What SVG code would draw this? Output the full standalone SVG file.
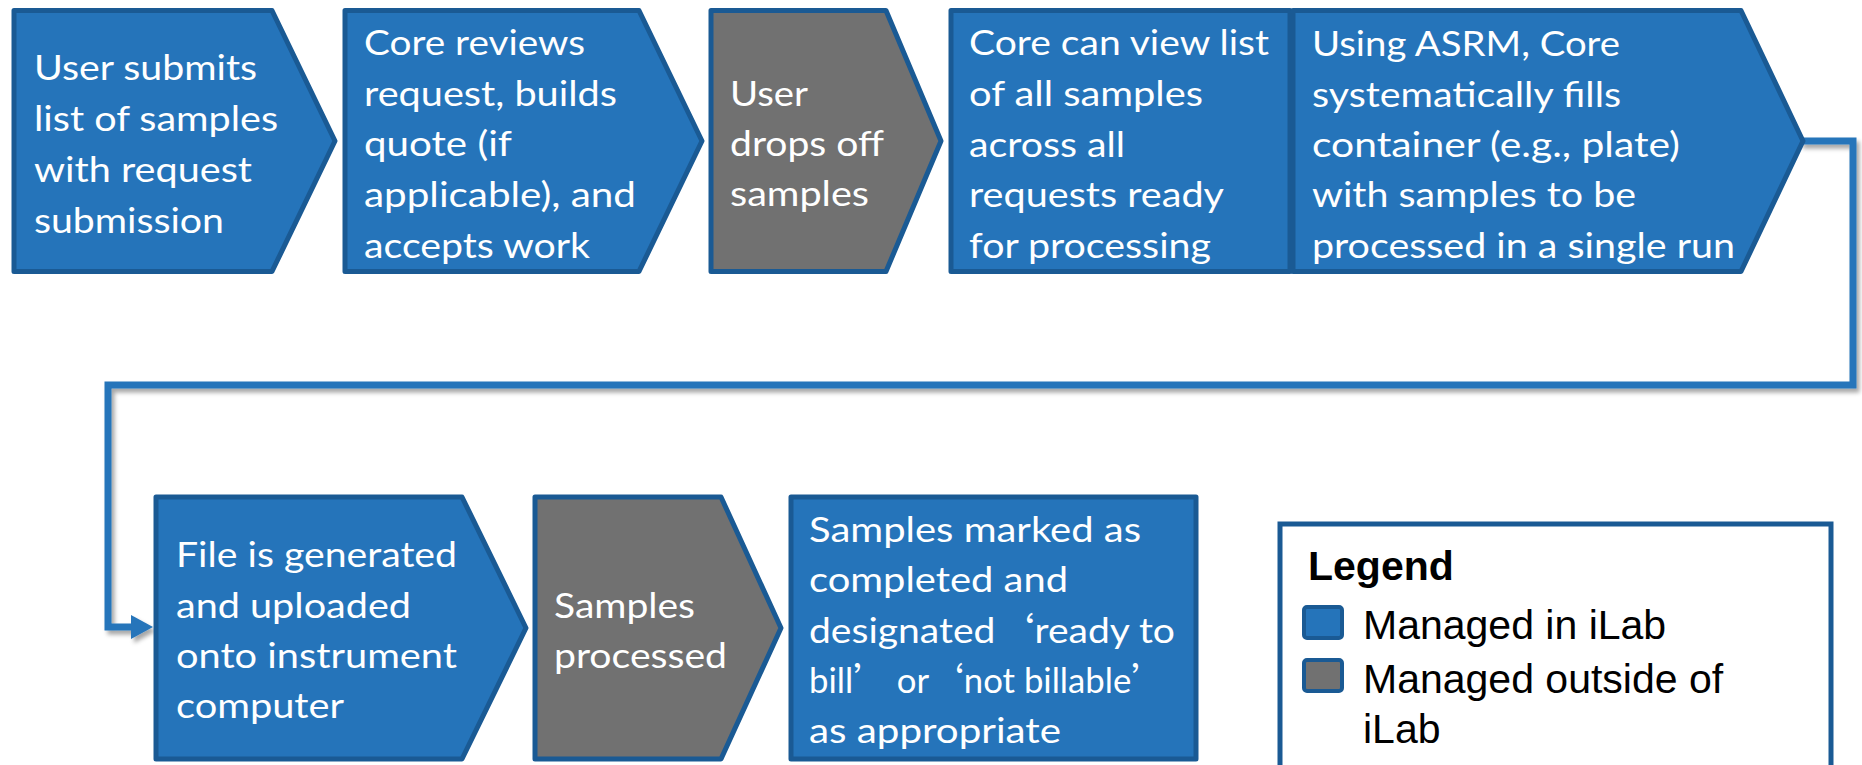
<svg xmlns="http://www.w3.org/2000/svg" width="1862" height="765" viewBox="0 0 1862 765">
<style>
.blue{fill:#2574BA;stroke:#1A5A94;stroke-width:5;stroke-linejoin:round}
.gray{fill:#717171;stroke:#1A5A94;stroke-width:5;stroke-linejoin:round}
.t{font-family:Lato,"Open Sans","Liberation Sans",sans-serif;font-size:35px;fill:#ffffff}
.q{font-family:"Noto Sans CJK SC","Noto Sans CJK JP",sans-serif}
.conn{fill:none;stroke:#2574BA;stroke-width:7}
.lg{font-family:"Liberation Sans",Arial,sans-serif;font-size:41px;fill:#000000}
</style>
<defs>
<filter id="sh" x="-5%" y="-5%" width="110%" height="110%">
<feDropShadow dx="3" dy="4" stdDeviation="2" flood-color="#000000" flood-opacity="0.35"/>
</filter>
<marker id="arr" viewBox="0 0 22 24" refX="1" refY="12" markerWidth="22" markerHeight="24" markerUnits="userSpaceOnUse" orient="auto">
<path d="M0 0 L22 12 L0 24 Z" fill="#2574BA"/>
</marker>
</defs>
<rect width="1862" height="765" fill="#ffffff"/>
<g id="connectors">
<path class="conn" filter="url(#sh)" d="M1800 141 H1853 V385 H108 V627 H132" marker-end="url(#arr)"/>
</g>
<g id="n1">
<path class="blue" d="M14 10.5 H272 L335 141 L272 271.5 H14 Z"/>
<text class="t"><tspan x="34" y="80" textLength="223" lengthAdjust="spacingAndGlyphs">User submits</tspan><tspan x="34" y="131" textLength="244" lengthAdjust="spacingAndGlyphs">list of samples</tspan><tspan x="34" y="182" textLength="218" lengthAdjust="spacingAndGlyphs">with request</tspan><tspan x="34" y="233" textLength="190" lengthAdjust="spacingAndGlyphs">submission</tspan></text>
</g>
<g id="n2">
<path class="blue" d="M345 10.5 H639 L702 141 L639 271.5 H345 Z"/>
<text class="t"><tspan x="364" y="55" textLength="221" lengthAdjust="spacingAndGlyphs">Core reviews</tspan><tspan x="364" y="106" textLength="253" lengthAdjust="spacingAndGlyphs">request, builds</tspan><tspan x="364" y="156" textLength="148" lengthAdjust="spacingAndGlyphs">quote (if</tspan><tspan x="364" y="207" textLength="272" lengthAdjust="spacingAndGlyphs">applicable), and</tspan><tspan x="364" y="258" textLength="226" lengthAdjust="spacingAndGlyphs">accepts work</tspan></text>
</g>
<g id="n3">
<path class="gray" d="M711 10.5 H886 L941 141 L886 271.5 H711 Z"/>
<text class="t"><tspan x="730" y="106" textLength="78" lengthAdjust="spacingAndGlyphs">User</tspan><tspan x="730" y="156" textLength="154" lengthAdjust="spacingAndGlyphs">drops off</tspan><tspan x="730" y="206" textLength="139" lengthAdjust="spacingAndGlyphs">samples</tspan></text>
</g>
<g id="n4">
<rect class="blue" x="951" y="10.5" width="339" height="261"/>
<text class="t"><tspan x="969" y="55" textLength="300" lengthAdjust="spacingAndGlyphs">Core can view list</tspan><tspan x="969" y="106" textLength="234" lengthAdjust="spacingAndGlyphs">of all samples</tspan><tspan x="969" y="157" textLength="156" lengthAdjust="spacingAndGlyphs">across all</tspan><tspan x="969" y="207" textLength="255" lengthAdjust="spacingAndGlyphs">requests ready</tspan><tspan x="969" y="258" textLength="242" lengthAdjust="spacingAndGlyphs">for processing</tspan></text>
</g>
<g id="n5">
<path class="blue" d="M1293 10.5 H1741 L1803 141 L1741 271.5 H1293 Z"/>
<text class="t"><tspan x="1312" y="56" textLength="308" lengthAdjust="spacingAndGlyphs">Using ASRM, Core</tspan><tspan x="1312" y="107" textLength="309" lengthAdjust="spacingAndGlyphs">systematically fills</tspan><tspan x="1312" y="157" textLength="368" lengthAdjust="spacingAndGlyphs">container (e.g., plate)</tspan><tspan x="1312" y="207" textLength="324" lengthAdjust="spacingAndGlyphs">with samples to be</tspan><tspan x="1312" y="258" textLength="423" lengthAdjust="spacingAndGlyphs">processed in a single run</tspan></text>
</g>
<g id="n6">
<path class="blue" d="M156 497 H462 L526 628 L462 759 H156 Z"/>
<text class="t"><tspan x="176" y="567" textLength="281" lengthAdjust="spacingAndGlyphs">File is generated</tspan><tspan x="176" y="618" textLength="235" lengthAdjust="spacingAndGlyphs">and uploaded</tspan><tspan x="176" y="668" textLength="281" lengthAdjust="spacingAndGlyphs">onto instrument</tspan><tspan x="176" y="718" textLength="168" lengthAdjust="spacingAndGlyphs">computer</tspan></text>
</g>
<g id="n7">
<path class="gray" d="M535 497 H721 L781 628 L721 759 H535 Z"/>
<text class="t"><tspan x="554" y="618" textLength="141" lengthAdjust="spacingAndGlyphs">Samples</tspan><tspan x="554" y="668" textLength="173" lengthAdjust="spacingAndGlyphs">processed</tspan></text>
</g>
<g id="n8">
<rect class="blue" x="791" y="497" width="405" height="262"/>
<text class="t" x="809" y="542" textLength="332" lengthAdjust="spacingAndGlyphs">Samples marked as</text>
<text class="t" x="809" y="592" textLength="259" lengthAdjust="spacingAndGlyphs">completed and</text>
<text class="t" x="809" y="643" textLength="366" lengthAdjust="spacingAndGlyphs">designated<tspan class="q">‘</tspan>ready to</text>
<text class="t" x="809" y="693" textLength="357" lengthAdjust="spacingAndGlyphs">bill<tspan class="q">’</tspan> or<tspan class="q">‘</tspan>not billable<tspan class="q">’</tspan></text>
<text class="t" x="809" y="743" textLength="252" lengthAdjust="spacingAndGlyphs">as appropriate</text>
</g>
<g id="legend">
<rect x="1280" y="524" width="551" height="300" fill="#ffffff" stroke="#1A5A94" stroke-width="5"/>
<text class="lg" x="1308" y="580" font-weight="bold">Legend</text>
<rect x="1304" y="607" width="38" height="31" rx="3" fill="#2574BA" stroke="#1A5A94" stroke-width="4"/>
<rect x="1304" y="660" width="38" height="31" rx="3" fill="#717171" stroke="#1A5A94" stroke-width="4"/>
<text class="lg" x="1363" y="639">Managed in iLab</text>
<text class="lg" x="1363" y="693">Managed outside of</text>
<text class="lg" x="1363" y="743">iLab</text>
</g>
</svg>
